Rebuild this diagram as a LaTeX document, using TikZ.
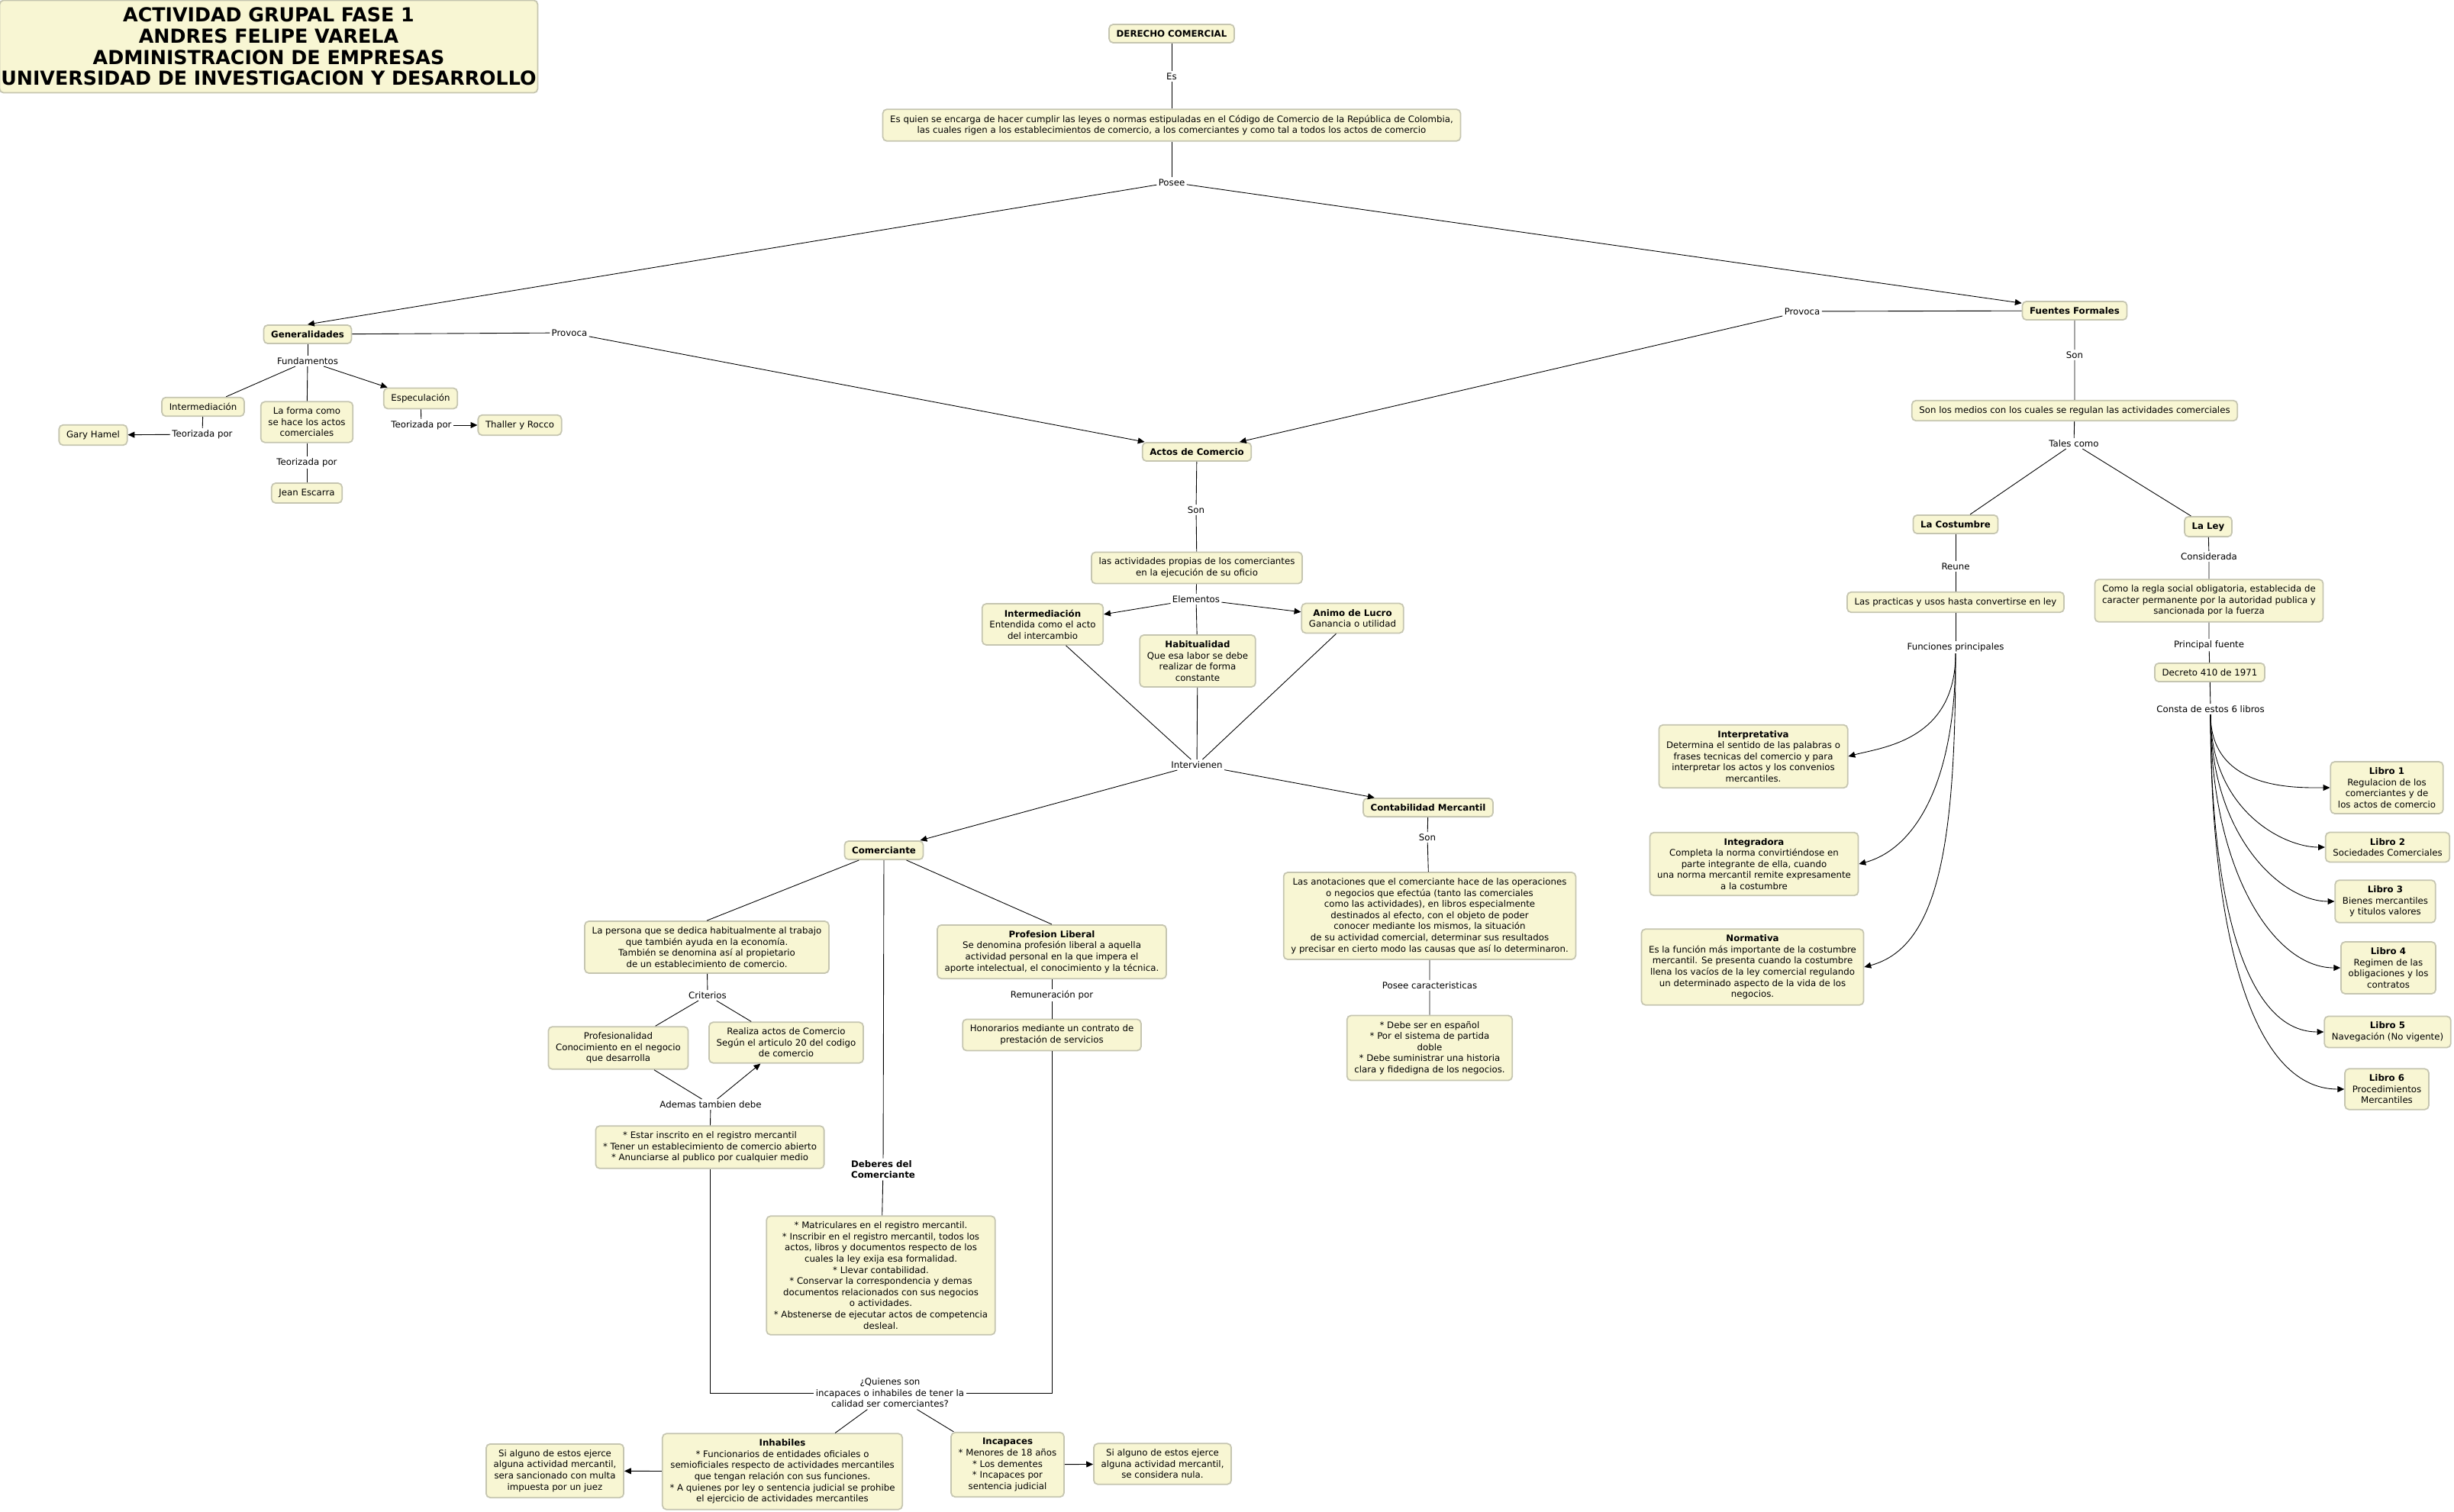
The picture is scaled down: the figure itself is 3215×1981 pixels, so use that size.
\documentclass[tikz,border=0pt]{standalone}
\usepackage{fontspec}
\setmainfont{DejaVu Sans}
\usepackage{tikz}
\usetikzlibrary{arrows.meta}
\definecolor{cFill}{HTML}{F8F6D3}
\definecolor{cLine}{HTML}{C5C5B0}

\begin{document}
\begin{tikzpicture}[x=0.02cm, y=0.02cm,
  concept/.style={draw=cLine, fill=cFill, line width=1pt, rounded corners=3pt,
                  align=center, inner xsep=5.5pt, inner ysep=4.3pt,
                  font=\fontsize{6.7}{8.3}\selectfont},
  bconcept/.style={concept, font=\fontsize{6.7}{8.3}\selectfont\bfseries},
  link/.style={fill=white, inner sep=1.2pt, align=center,
               font=\fontsize{6.7}{8.3}\selectfont},
  conn/.style={line width=0.5pt},
  arr/.style={conn, -{Triangle[length=5pt, width=4.5pt]}},
  fanl/.style={arr, out=-90, in=180, out looseness=1.4, in looseness=0.6},
  fanr/.style={arr, out=-90, in=15, out looseness=1.5, in looseness=0.6},
]
  \useasboundingbox (0,0) rectangle (3215,-1981);

  % TITLE
  \node[concept, font=\fontsize{14.4}{15.7}\selectfont\bfseries, inner xsep=1pt, inner ysep=5.5pt]
    (title) at (352,-61) {ACTIVIDAD GRUPAL FASE 1\\ANDRES FELIPE VARELA\\ADMINISTRACION DE EMPRESAS\\UNIVERSIDAD DE INVESTIGACION Y DESARROLLO};

  % ROOT
  \node[bconcept] (dc) at (1535,-44) {DERECHO COMERCIAL};
  \node[link] (es) at (1535,-100) {Es};
  \node[concept] (desc) at (1535,-164) {Es quien se encarga de hacer cumplir las leyes o normas estipuladas en el Código de Comercio de la República de Colombia,\\las cuales rigen a los establecimientos de comercio, a los comerciantes y como tal a todos los actos de comercio};
  \node[link] (posee) at (1535,-239) {Posee};

  % GENERALIDADES
  \node[bconcept] (gen) at (403,-438) {Generalidades};
  \node[link] (provA) at (746,-436) {Provoca};
  \node[link] (fund) at (403,-473) {Fundamentos};
  \node[concept] (intermG) at (266,-533) {Intermediación};
  \node[concept] (forma) at (402,-553) {La forma como\\se hace los actos\\comerciales};
  \node[concept] (espec) at (551,-522) {Especulación};
  \node[link] (teoA) at (265,-569) {Teorizada por};
  \node[concept] (hamel) at (122,-570) {Gary Hamel};
  \node[link] (teoB) at (402,-606) {Teorizada por};
  \node[concept] (escarra) at (402,-646) {Jean Escarra};
  \node[link] (teoC) at (552,-557) {Teorizada por};
  \node[concept] (thaller) at (681,-557) {Thaller y Rocco};

  % ACTOS DE COMERCIO
  \node[bconcept] (actos) at (1568,-592) {Actos de Comercio};
  \node[link] (sonA) at (1567,-668) {Son};
  \node[concept] (activ) at (1568,-744) {las actividades propias de los comerciantes\\en la ejecución de su oficio};
  \node[link] (elem) at (1567,-785) {Elementos};
  \node[concept] (intermA) at (1366,-818) {\textbf{Intermediación}\\Entendida como el acto\\del intercambio};
  \node[concept] (habit) at (1569,-866) {\textbf{Habitualidad}\\Que esa labor se debe\\realizar de forma\\constante};
  \node[concept] (lucro) at (1772,-810) {\textbf{Animo de Lucro}\\Ganancia o utilidad};
  \node[link] (interv) at (1568,-1002) {Intervienen};

  % COMERCIANTE
  \node[bconcept] (com) at (1158,-1114) {Comerciante};
  \node[concept] (persona) at (926,-1241) {La persona que se dedica habitualmente al trabajo\\que también ayuda en la economía.\\También se denomina así al propietario\\de un establecimiento de comercio.};
  \node[concept] (prof) at (1378,-1247) {\textbf{Profesion Liberal}\\Se denomina profesión liberal a aquella\\actividad personal en la que impera el\\aporte intelectual, el conocimiento y la técnica.};
  \node[link] (crit) at (927,-1304) {Criterios};
  \node[concept] (profes) at (810,-1373) {Profesionalidad\\Conocimiento en el negocio\\que desarrolla};
  \node[concept] (realiza) at (1030,-1366) {Realiza actos de Comercio\\Según el articulo 20 del codigo\\de comercio};
  \node[link] (ademas) at (931,-1447) {Ademas tambien debe};
  \node[concept] (estar) at (930,-1503) {* Estar inscrito en el registro mercantil\\{}* Tener un establecimiento de comercio abierto\\{}* Anunciarse al publico por cualquier medio};
  \node[link] (remun) at (1378,-1304) {Remuneración por};
  \node[concept] (honor) at (1378,-1356) {Honorarios mediante un contrato de\\prestación de servicios};
  \node[link, align=left, font=\fontsize{6.7}{8.3}\selectfont\bfseries] (deberes) at (1157,-1532) {Deberes del\\Comerciante};
  \node[concept] (deb) at (1154,-1671) {* Matriculares en el registro mercantil.\\{}* Inscribir en el registro mercantil, todos los\\actos, libros y documentos respecto de los\\cuales la ley exija esa formalidad.\\{}* Llevar contabilidad.\\{}* Conservar la correspondencia y demas\\documentos relacionados con sus negocios\\o actividades.\\{}* Abstenerse de ejecutar actos de competencia\\desleal.};

  % INCAPACES O INHABILES
  \node[link] (quien) at (1166,-1825) {¿Quienes son\\incapaces o inhabiles de tener la\\calidad ser comerciantes?};
  \node[concept] (inhab) at (1025,-1928) {\textbf{Inhabiles}\\{}* Funcionarios de entidades oficiales o\\semioficiales respecto de actividades mercantiles\\que tengan relación con sus funciones.\\{}* A quienes por ley o sentencia judicial se prohibe\\el ejercicio de actividades mercantiles};
  \node[concept] (incap) at (1320,-1919) {\textbf{Incapaces}\\{}* Menores de 18 años\\{}* Los dementes\\{}* Incapaces por\\sentencia judicial};
  \node[concept] (sancion) at (727,-1927) {Si alguno de estos ejerce\\alguna actividad mercantil,\\sera sancionado con multa\\impuesta por un juez};
  \node[concept] (nula) at (1523,-1918) {Si alguno de estos ejerce\\alguna actividad mercantil,\\se considera nula.};

  % CONTABILIDAD
  \node[bconcept] (conta) at (1871,-1058) {Contabilidad Mercantil};
  \node[link] (sonC) at (1870,-1097) {Son};
  \node[concept] (anot) at (1873,-1200) {Las anotaciones que el comerciante hace de las operaciones\\o negocios que efectúa (tanto las comerciales\\como las actividades), en libros especialmente\\destinados al efecto, con el objeto de poder\\conocer mediante los mismos, la situación\\de su actividad comercial, determinar sus resultados\\y precisar en cierto modo las causas que así lo determinaron.};
  \node[link] (carac) at (1873,-1291) {Posee caracteristicas};
  \node[concept] (debe) at (1873,-1373) {* Debe ser en español\\{}* Por el sistema de partida\\doble\\{}* Debe suministrar una historia\\clara y fidedigna de los negocios.};

  % FUENTES FORMALES
  \node[bconcept] (fuentes) at (2718,-407) {Fuentes Formales};
  \node[link] (provB) at (2361,-408) {Provoca};
  \node[link] (sonF) at (2718,-465) {Son};
  \node[concept] (medios) at (2718,-538) {Son los medios con los cuales se regulan las actividades comerciales};
  \node[link] (tales) at (2717,-581) {Tales como};
  \node[bconcept] (costum) at (2562,-687) {La Costumbre};
  \node[bconcept] (ley) at (2893,-690) {La Ley};
  \node[link] (reune) at (2562,-742) {Reune};
  \node[concept] (pract) at (2562,-789) {Las practicas y usos hasta convertirse en ley};
  \node[link] (funcs) at (2562,-848) {Funciones principales};
  \node[concept] (interp) at (2297,-991) {\textbf{Interpretativa}\\Determina el sentido de las palabras o\\frases tecnicas del comercio y para\\interpretar los actos y los convenios\\mercantiles.};
  \node[concept] (integ) at (2298,-1132) {\textbf{Integradora}\\Completa la norma convirtiéndose en\\parte integrante de ella, cuando\\una norma mercantil remite expresamente\\a la costumbre};
  \node[concept] (norm) at (2296,-1267) {\textbf{Normativa}\\Es la función más importante de la costumbre\\mercantil. Se presenta cuando la costumbre\\llena los vacíos de la ley comercial regulando\\un determinado aspecto de la vida de los\\negocios.};
  \node[link] (consid) at (2894,-729) {Considerada};
  \node[concept] (regla) at (2894,-787) {Como la regla social obligatoria, establecida de\\caracter permanente por la autoridad publica y\\sancionada por la fuerza};
  \node[link] (princ) at (2894,-845) {Principal fuente};
  \node[concept] (decreto) at (2895,-881) {Decreto 410 de 1971};
  \node[link] (consta) at (2896,-929) {Consta de estos 6 libros};
  \node[concept] (lib1) at (3127,-1032) {\textbf{Libro 1}\\Regulacion de los\\comerciantes y de\\los actos de comercio};
  \node[concept] (lib2) at (3128,-1110) {\textbf{Libro 2}\\Sociedades Comerciales};
  \node[concept] (lib3) at (3125,-1181) {\textbf{Libro 3}\\Bienes mercantiles\\y titulos valores};
  \node[concept] (lib4) at (3129,-1268) {\textbf{Libro 4}\\Regimen de las\\obligaciones y los\\contratos};
  \node[concept] (lib5) at (3128,-1352) {\textbf{Libro 5}\\Navegación (No vigente)};
  \node[concept] (lib6) at (3127,-1427) {\textbf{Libro 6}\\Procedimientos\\Mercantiles};

  % connectors: top
  \draw[conn] (dc) -- (es) -- (desc) -- (posee);
  \draw[arr] (posee) -- (gen.north);
  \draw[arr] (posee) -- (fuentes);
  \draw[conn] (gen) -- (provA);
  \draw[arr] (provA) -- (actos);
  \draw[conn] (fuentes) -- (provB);
  \draw[arr] (provB) -- (actos);

  % connectors: generalidades
  \draw[conn] (gen) -- (fund);
  \draw[conn] (fund) -- (intermG);
  \draw[conn] (fund) -- (forma);
  \draw[arr] (fund) -- (espec);
  \draw[conn] (intermG) -- (teoA);
  \draw[arr] (teoA) -- (hamel);
  \draw[conn] (forma) -- (teoB) -- (escarra);
  \draw[conn] (espec) -- (teoC);
  \draw[arr] (teoC) -- (thaller);

  % connectors: actos de comercio
  \draw[conn] (actos) -- (sonA) -- (activ) -- (elem);
  \draw[arr] (elem) -- (intermA);
  \draw[conn] (elem) -- (habit);
  \draw[arr] (elem) -- (lucro);
  \draw[conn] (intermA) -- (interv);
  \draw[conn] (habit) -- (interv);
  \draw[conn] (lucro) -- (interv);
  \draw[arr] (interv) -- (com);
  \draw[arr] (interv) -- (conta);

  % connectors: comerciante
  \draw[conn] (com) -- (persona.north);
  \draw[conn] (com) -- (prof.north);
  \draw[conn] (com) -- (deberes) -- (deb);
  \draw[conn] (persona) -- (crit);
  \draw[conn] (crit) -- (profes);
  \draw[conn] (crit) -- (realiza);
  \draw[conn] (profes) -- (ademas);
  \draw[arr] (ademas) -- (realiza);
  \draw[conn] (ademas) -- (estar);
  \draw[conn] (prof) -- (remun) -- (honor);
  \draw[conn] (estar) |- (quien);
  \draw[conn] (honor) |- (quien);
  \draw[conn] (quien) -- (inhab);
  \draw[conn] (quien) -- (incap);
  \draw[arr] (inhab) -- (sancion);
  \draw[arr] (incap) -- (nula);

  % connectors: contabilidad
  \draw[conn] (conta) -- (sonC) -- (anot) -- (carac) -- (debe);

  % connectors: fuentes formales
  \draw[conn] (fuentes) -- (sonF) -- (medios) -- (tales);
  \draw[conn] (tales) -- (costum);
  \draw[conn] (tales) -- (ley);
  \draw[conn] (costum) -- (reune) -- (pract) -- (funcs);
  \draw[fanr] (funcs) to (interp.east);
  \draw[fanr] (funcs) to (integ.east);
  \draw[fanr] (funcs) to (norm.east);
  \draw[conn] (ley) -- (consid) -- (regla) -- (princ) -- (decreto) -- (consta);
  \draw[fanl] (consta) to (lib1.west);
  \draw[fanl] (consta) to (lib2.west);
  \draw[fanl] (consta) to (lib3.west);
  \draw[fanl] (consta) to (lib4.west);
  \draw[fanl] (consta) to (lib5.west);
  \draw[fanl] (consta) to (lib6.west);
\end{tikzpicture}
\end{document}
